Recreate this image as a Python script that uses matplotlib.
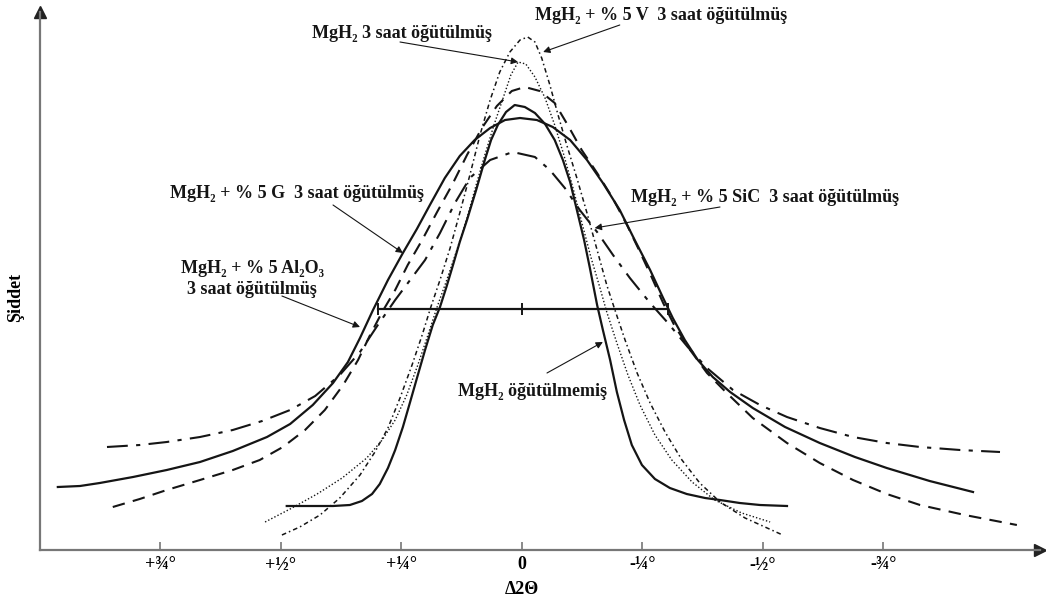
import numpy as np
import matplotlib
matplotlib.use("Agg")
import matplotlib.pyplot as plt

# x in degrees of delta 2-theta (positive on the left), y = intensity (arbitrary units)
unmilled_x = [0.488, 0.440, 0.392, 0.357, 0.332, 0.311, 0.295, 0.278, 0.263, 0.247, 0.232, 0.216,
              0.201, 0.185, 0.170, 0.156, 0.143, 0.129, 0.114, 0.095, 0.077, 0.064, 0.050, 0.033,
              0.015, -0.006, -0.027, -0.048, -0.068, -0.085, -0.100, -0.114, -0.129, -0.141,
              -0.156, -0.168, -0.183, -0.197, -0.212, -0.228, -0.249, -0.276, -0.307, -0.342,
              -0.380, -0.411, -0.452, -0.494, -0.550]
unmilled_y = [44, 44, 44, 45, 49, 56, 66, 82, 100, 123, 148, 175,
              200, 225, 243, 264, 285, 308, 330, 360, 390, 410, 425, 438,
              445, 443, 437, 426, 410, 390, 368, 340, 310, 282,
              245, 220, 190, 158, 130, 105, 85, 71, 62, 56,
              52, 50, 47, 45, 44]

g_x = [0.963, 0.917, 0.876, 0.807, 0.737, 0.668, 0.600, 0.529, 0.481, 0.434, 0.392, 0.361, 0.336,
       0.309, 0.278, 0.247, 0.218, 0.191, 0.160, 0.129, 0.098, 0.066, 0.035, 0.004, -0.031,
       -0.064, -0.100, -0.135, -0.168, -0.203, -0.234, -0.266, -0.293, -0.313, -0.338, -0.365,
       -0.396, -0.432, -0.479, -0.546, -0.618, -0.691, -0.757, -0.846, -0.936]
g_y = [63, 64, 67, 73, 80, 88, 99, 113, 126, 145, 167, 188, 212,
       240, 270, 297, 321, 345, 372, 394, 410, 422, 430, 432, 430,
       423, 410, 390, 367, 340, 310, 280, 252, 232, 210, 190,
       173, 158, 142, 123, 107, 93, 82, 69, 58]

al_x = [0.849, 0.793, 0.737, 0.668, 0.600, 0.544, 0.496, 0.450, 0.409, 0.371, 0.340, 0.315, 0.290,
        0.263, 0.237, 0.207, 0.176, 0.145, 0.114, 0.083, 0.052, 0.021, -0.006, -0.037, -0.068,
        -0.095, -0.124, -0.156, -0.187, -0.218, -0.245, -0.270, -0.293, -0.317, -0.349, -0.384,
        -0.425, -0.479, -0.550, -0.618, -0.687, -0.757, -0.826, -0.919, -1.027]
al_y = [43, 51, 60, 70, 80, 90, 103, 120, 140, 165, 190, 215, 238,
        260, 285, 310, 338, 365, 395, 422, 444, 459, 463, 459, 447,
        425, 400, 377, 353, 325, 298, 272, 247, 224, 200, 177,
        157, 132, 107, 87, 70, 56, 45, 35, 25]

sic_x = [0.861, 0.793, 0.737, 0.668, 0.600, 0.539, 0.481, 0.429, 0.378, 0.336, 0.299, 0.263, 0.232,
         0.201, 0.170, 0.139, 0.108, 0.066, 0.019, -0.027, -0.058, -0.089, -0.120, -0.156, -0.189,
         -0.224, -0.266, -0.303, -0.344, -0.384, -0.438, -0.494, -0.550, -0.618, -0.687, -0.757,
         -0.826, -0.909, -0.992]
sic_y = [103, 105, 108, 113, 120, 129, 140, 154, 175, 198, 225, 250, 270,
         290, 317, 347, 372, 390, 398, 393, 380, 362, 340, 318, 295,
         272, 247, 227, 203, 182, 160, 145, 133, 122, 113, 107,
         103, 100, 98]

milled_x = [0.533, 0.481, 0.425, 0.373, 0.322, 0.290, 0.263, 0.239, 0.216, 0.195, 0.176, 0.156,
            0.135, 0.114, 0.095, 0.077, 0.058, 0.039, 0.023, 0.008, -0.008, -0.027, -0.048,
            -0.068, -0.087, -0.106, -0.124, -0.143, -0.162, -0.176, -0.197, -0.220, -0.245,
            -0.276, -0.311, -0.353, -0.400, -0.456, -0.515]
milled_y = [28, 41, 56, 72, 92, 110, 130, 155, 185, 215, 243, 270,
            300, 332, 365, 395, 425, 452, 475, 488, 486, 473, 452,
            425, 395, 362, 328, 293, 262, 238, 207, 175, 145,
            115, 90, 68, 50, 37, 28]

v_x = [0.498, 0.461, 0.419, 0.378, 0.336, 0.305, 0.278, 0.253, 0.228, 0.207, 0.189, 0.170, 0.149,
       0.129, 0.108, 0.087, 0.066, 0.046, 0.025, 0.004, -0.012, -0.027, -0.041, -0.058, -0.075,
       -0.093, -0.114, -0.135, -0.156, -0.176, -0.193, -0.214, -0.239, -0.266, -0.297, -0.332,
       -0.369, -0.411, -0.463, -0.541]
v_y = [15, 23, 35, 52, 75, 98, 122, 152, 185, 215, 243, 270, 302,
       337, 375, 415, 450, 478, 498, 510, 513, 508, 492, 465, 435,
       405, 372, 337, 300, 265, 240, 210, 177, 147, 118, 90,
       67, 48, 32, 15]

fwhm_x = [0.298, 0.0, -0.303]
fwhm_y = 241

tick_pos = [0.75, 0.5, 0.25, 0, -0.25, -0.5, -0.75]
tick_lbl = ["+\u00be\u00b0", "+\u00bd\u00b0", "+\u00bc\u00b0", "0", "-\u00bc\u00b0", "-\u00bd\u00b0", "-\u00be\u00b0"]

# label text, text position, arrow start, arrow tip
notes = [
    ("MgH\u2082 3 saat öğütülmüş", (0.249, 517), (0.253, 508), (0.008, 488)),
    ("MgH\u2082 + % 5 V  3 saat öğütülmüş", (-0.288, 535), (-0.203, 525), (-0.044, 498)),
    ("MgH\u2082 + % 5 G  3 saat öğütülmüş", (0.467, 357), (0.392, 345), (0.247, 297)),
    ("MgH\u2082 + % 5 Al\u2082O\u2083\n3 saat öğütülmüş", (0.560, 271), (0.498, 254), (0.336, 223)),
    ("MgH\u2082 + % 5 SiC  3 saat öğütülmüş", (-0.504, 352), (-0.411, 343), (-0.151, 322)),
    ("MgH\u2082 öğütülmemiş", (-0.023, 158), (-0.052, 177), (-0.168, 208)),
]

serif = ["Liberation Serif", "DejaVu Serif"]
ink = "#151515"

fig = plt.figure(figsize=(10.46, 6.03), dpi=100)
ax = fig.add_axes([40 / 1046, 53 / 603, 1000 / 1046, 538 / 603])
ax.set_xlim(1.0, -1.075)
ax.set_ylim(0, 538)

ax.plot(unmilled_x, unmilled_y, color=ink, lw=1.6)
ax.plot(g_x, g_y, color=ink, lw=1.6)
ax.plot(al_x, al_y, color=ink, lw=1.5, dashes=(6, 4))
ax.plot(sic_x, sic_y, color=ink, lw=1.5, dashes=(10, 4, 2, 4))
ax.plot(milled_x, milled_y, color=ink, lw=1.0, dashes=(1, 1.5))
ax.plot(v_x, v_y, color=ink, lw=1.1, dashes=(3, 2, 1, 2))

ax.plot([fwhm_x[0], fwhm_x[-1]], [fwhm_y, fwhm_y], color=ink, lw=1.6)
ax.plot(fwhm_x, [fwhm_y] * 3, ls="none", marker="|", ms=8, color=ink, mew=1.4)

for txt, tpos, start, tip in notes:
    ax.text(tpos[0], tpos[1], txt, ha="center", va="center", family=serif,
            weight="bold", fontsize=13, linespacing=1.25, color=ink)
    ax.annotate("", xy=tip, xytext=start,
                arrowprops=dict(arrowstyle="-|>", color=ink, lw=0.8,
                                mutation_scale=10, shrinkA=0, shrinkB=0))

for s in ["top", "right"]:
    ax.spines[s].set_visible(False)
for s in ["left", "bottom"]:
    ax.spines[s].set_color("#777777")
    ax.spines[s].set_linewidth(1.6)
ax.plot(1.0, 538, marker="^", ms=9, color="#222222", clip_on=False)
ax.plot(-1.075, 0, marker=">", ms=9, color="#222222", clip_on=False)

ax.set_yticks([])
ax.set_xticks(tick_pos)
ax.set_xticklabels(tick_lbl, family=serif, weight="bold", fontsize=13)
ax.tick_params(axis="x", direction="in", length=6, width=1.2, color="#777777", pad=4)

ax.set_xlabel("\u03942\u0398", family=serif, weight="bold", fontsize=13)
ax.xaxis.set_label_coords(0.482, -0.058)
ax.set_ylabel("Şiddet", family=serif, weight="bold", fontsize=13)
ax.yaxis.set_label_coords(-0.016, 0.47)

fig.savefig("out.png", dpi=100)
